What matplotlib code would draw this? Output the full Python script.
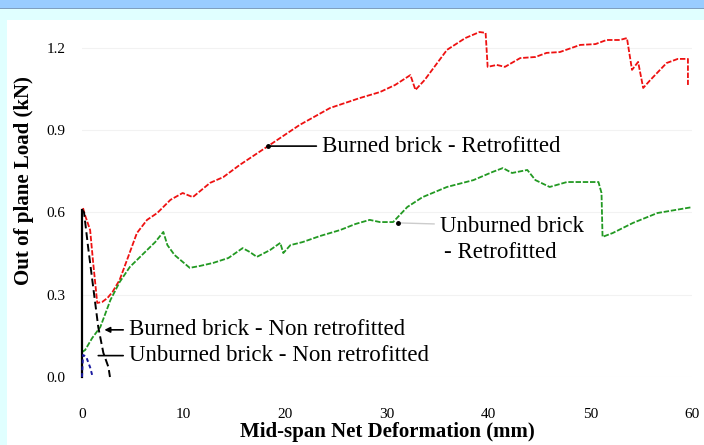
import matplotlib.pyplot as plt
from matplotlib.patches import Rectangle

# Burned brick - Retrofitted (red)
red_x = [0.1, 0.3, 0.8, 1.1, 1.5, 2.0, 2.5, 3.0, 3.7, 4.5, 5.4, 6.4, 7.4, 8.7, 9.9,
         10.9, 12.6, 13.9, 15.5, 18.3, 21.4, 24.4, 27.3, 29.3, 30.8, 32.3, 32.8,
         33.7, 35.9, 37.7, 39.1, 39.7, 39.9, 40.8, 41.6, 43.1, 44.6, 45.7, 47.0,
         49.0, 50.5, 51.6, 52.9, 53.6, 54.1, 54.7, 55.2, 55.9, 57.5, 58.6, 59.6, 59.6]
red_y = [0.616, 0.59, 0.536, 0.416, 0.27, 0.274, 0.288, 0.31, 0.354, 0.434, 0.525,
         0.573, 0.598, 0.646, 0.671, 0.656, 0.708, 0.729, 0.773, 0.842, 0.919, 0.981,
         1.017, 1.039, 1.065, 1.101, 1.047, 1.083, 1.193, 1.236, 1.258, 1.255, 1.131,
         1.138, 1.131, 1.163, 1.167, 1.182, 1.185, 1.211, 1.214, 1.229, 1.229, 1.236,
         1.120, 1.149, 1.054, 1.083, 1.145, 1.160, 1.160, 1.065]

# Unburned brick - Retrofitted (green)
green_x = [0.0, 0.3, 1.0, 1.8, 2.8, 3.7, 4.7, 6.4, 7.2, 8.0, 8.4, 9.1, 10.6, 11.6,
           12.9, 14.4, 15.8, 16.5, 17.2, 18.5, 19.5, 19.8, 20.5, 21.7, 23.4, 25.4,
           26.9, 28.3, 29.3, 30.6, 32.0, 33.5, 35.9, 38.5, 40.4, 41.4, 42.3, 43.8,
           44.6, 46.0, 47.7, 50.8, 51.1, 51.2, 52.2, 54.2, 56.6, 60.1]
green_y = [0.091, 0.098, 0.142, 0.182, 0.281, 0.346, 0.401, 0.463, 0.492, 0.529,
           0.481, 0.445, 0.398, 0.405, 0.416, 0.434, 0.47, 0.456, 0.438, 0.463, 0.489,
           0.452, 0.481, 0.492, 0.514, 0.536, 0.558, 0.573, 0.565, 0.565, 0.62, 0.656,
           0.693, 0.718, 0.748, 0.762, 0.744, 0.755, 0.718, 0.693, 0.711, 0.711, 0.671,
           0.511, 0.525, 0.562, 0.598, 0.62]

# Burned brick - Non retrofitted (black)
black_x = [0.0, 0.0, 0.2, 0.6, 1.1, 1.6, 2.1, 2.6, 2.75]
black_y = [0.0, 0.61, 0.60, 0.474, 0.328, 0.182, 0.088, 0.036, 0.0]

# Unburned brick - Non retrofitted (blue)
blue_x = [0.0, 0.1, 0.4, 0.8, 1.05]
blue_y = [0.0, 0.08, 0.075, 0.035, 0.0]

x_ticks = [0, 10, 20, 30, 40, 50, 60]
y_ticks = [0.0, 0.3, 0.6, 0.9, 1.2]

plt.rcParams['font.family'] = ['Liberation Serif', 'DejaVu Serif']

fig = plt.figure(figsize=(7.04, 4.45), dpi=100)
fig.patch.set_facecolor('#e0ffff')
# frame: white panel, blue header bar
for rect, col in [((7 / 704, 0, 1, (445 - 20) / 445), 'white'),
                  ((0, (445 - 8) / 445, 1, 8 / 445), '#99ccff'),
                  ((0, (445 - 9) / 445, 1, 1.2 / 445), '#7f9fbf')]:
    fig.patches.append(Rectangle(rect[:2], rect[2], rect[3], transform=fig.transFigure,
                                 facecolor=col, edgecolor='none', zorder=-10))

ax = fig.add_axes([82 / 704, 68 / 445, 610 / 704, 351 / 445])
ax.set_facecolor('none')
ax.set_xlim(0, 60)
ax.set_ylim(0, 1.28)
for s in ax.spines.values():
    s.set_visible(False)
ax.set_xticks(x_ticks)
ax.set_yticks(y_ticks)
ax.set_xticklabels([str(v) for v in x_ticks])
ax.set_yticklabels(['%.1f' % v for v in y_ticks])
ax.tick_params(axis='x', length=0, pad=22, labelsize=11)
ax.tick_params(axis='y', length=0, pad=12, labelsize=11)
ax.grid(axis='y', color='#f2f2f2', linewidth=0.8)

ax.plot(red_x, red_y, color='#ee1111', lw=1.3, dashes=(3, 1), zorder=3)
ax.plot(green_x, green_y, color='#229922', lw=1.3, dashes=(3, 1), zorder=3)
ax.plot(black_x[:2], black_y[:2], color='black', lw=1.6, zorder=4, clip_on=False)
ax.plot(black_x[1:], black_y[1:], color='black', lw=1.4, dashes=(4, 2), zorder=4,
        clip_on=False)
ax.plot(blue_x, blue_y, color='#1a1aa0', lw=1.4, dashes=(2, 1.5), zorder=4,
        clip_on=False)

fs = 16.5
ax.annotate('Burned brick - Retrofitted', xy=(18.3, 0.842), xytext=(23.6, 0.842),
            fontsize=fs, va='center', ha='left',
            arrowprops=dict(arrowstyle='-', color='black', lw=1.2, shrinkA=2, shrinkB=0))
ax.plot([18.3], [0.842], 'o', color='black', ms=2.5, zorder=5)
ax.annotate('Unburned brick', xy=(31.1, 0.562), xytext=(35.2, 0.55),
            fontsize=fs, va='center', ha='left',
            arrowprops=dict(arrowstyle='-', color='#cccccc', lw=1.0, shrinkA=2, shrinkB=0))
ax.plot([31.1], [0.562], 'o', color='black', ms=2.5, zorder=5)
ax.text(35.6, 0.455, '- Retrofitted', fontsize=fs, va='center', ha='left')
ax.annotate('Burned brick - Non retrofitted', xy=(2.2, 0.172), xytext=(4.6, 0.172),
            fontsize=fs, va='center', ha='left',
            arrowprops=dict(arrowstyle='-|>', color='black', lw=1.2, mutation_scale=8,
                            shrinkA=2, shrinkB=0))
ax.annotate('Unburned brick - Non retrofitted', xy=(1.6, 0.078), xytext=(4.6, 0.078),
            fontsize=fs, va='center', ha='left',
            arrowprops=dict(arrowstyle='-', color='black', lw=1.2, shrinkA=2, shrinkB=0))

ax.set_xlabel('Mid-span Net Deformation (mm)', fontsize=15, fontweight='bold')
ax.xaxis.set_label_coords(0.5, -0.128)
ax.set_ylabel('Out of plane Load (kN)', fontsize=15, fontweight='bold')
ax.yaxis.set_label_coords(-0.078, 0.56)

fig.savefig('out.png', dpi=100, facecolor=fig.get_facecolor())
